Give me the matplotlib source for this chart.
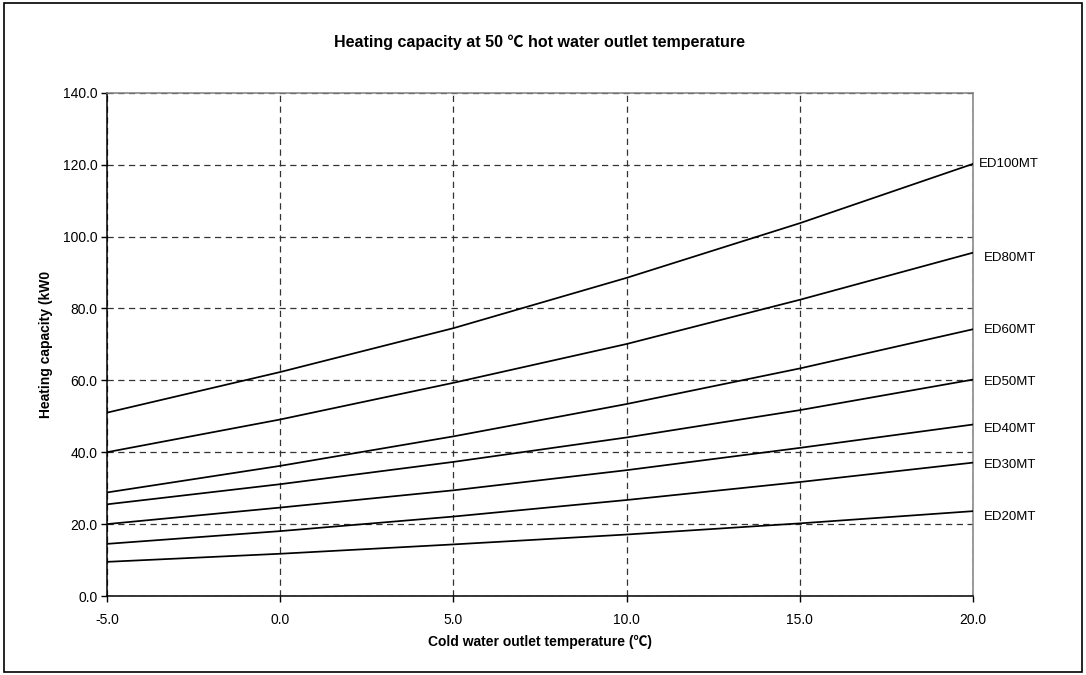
import matplotlib
matplotlib.use("Agg")
import matplotlib.pyplot as plt
from matplotlib.patches import Rectangle
from matplotlib.ticker import FormatStrFormatter

plt.rcParams['font.family'] = ['Liberation Sans', 'Noto Sans CJK SC', 'DejaVu Sans']

temps = [-5, 0, 5, 10, 15, 20]
ed100 = [51.0, 62.3, 74.5, 88.5, 103.7, 120.2]
ed80 = [40.0, 49.1, 59.3, 70.1, 82.4, 95.5]
ed60 = [28.8, 36.2, 44.4, 53.4, 63.3, 74.2]
ed50 = [25.5, 31.1, 37.3, 44.1, 51.7, 60.2]
ed40 = [20.0, 24.6, 29.4, 35.0, 41.2, 47.7]
ed30 = [14.5, 18.05, 22.1, 26.7, 31.7, 37.1]
ed20 = [9.5, 11.75, 14.35, 17.1, 20.2, 23.6]
series_names = ["ED100MT", "ED80MT", "ED60MT", "ED50MT", "ED40MT", "ED30MT", "ED20MT"]
series_values = [ed100, ed80, ed60, ed50, ed40, ed30, ed20]
label_offsets = [0, -1.6, -0.3, -0.7, -1.3, -0.7, -1.6]

fig = plt.figure(figsize=(10.86, 6.75), dpi=100)
fig.patches.append(Rectangle((0.004, 0.004), 0.992, 0.992, transform=fig.transFigure,
                             fill=False, edgecolor='black', linewidth=1.2))

ax = fig.add_axes([107 / 1086, 79 / 675, 866 / 1086, 503.3 / 675])

for name, vals, off in zip(series_names, series_values, label_offsets):
    ax.plot(temps, vals, color='black', linewidth=1.25, zorder=3)
    xoff = 4 if name == "ED100MT" else 8
    ax.annotate(name, xy=(temps[-1], vals[-1] + off), xytext=(xoff, 0),
                textcoords='offset points', va='center', ha='left', fontsize=9.5,
                annotation_clip=False)

ax.set_xlim(-5, 20)
ax.set_ylim(0, 140)
ax.set_xticks([-5, 0, 5, 10, 15, 20])
ax.set_yticks([0, 20, 40, 60, 80, 100, 120, 140])
ax.xaxis.set_major_formatter(FormatStrFormatter('%.1f'))
ax.yaxis.set_major_formatter(FormatStrFormatter('%.1f'))
ax.tick_params(axis='both', direction='out', length=4, width=1, labelsize=10, colors='black')
ax.tick_params(axis='x', pad=8)
ax.tick_params(axis='y', pad=3)

ax.grid(True, color='#333333', linestyle=(0, (5, 3.6)), linewidth=0.9)
ax.set_axisbelow(True)

ax.spines['left'].set_color('black')
ax.spines['bottom'].set_color('black')
ax.spines['top'].set_color('#808080')
ax.spines['right'].set_color('#808080')
for s in ax.spines.values():
    s.set_linewidth(1.1)
    s.set_zorder(2.5)

ax.set_xlabel('Cold water outlet temperature (℃)', fontsize=10, fontweight='bold', labelpad=6)
ax.set_ylabel('Heating capacity (kW0', fontsize=10, fontweight='bold', labelpad=7)

fig.text(0.497, 1 - 42 / 675, 'Heating capacity at 50 ℃ hot water outlet temperature',
         ha='center', va='center', fontsize=11.5, fontweight='bold')

fig.savefig('out.png', dpi=100)
